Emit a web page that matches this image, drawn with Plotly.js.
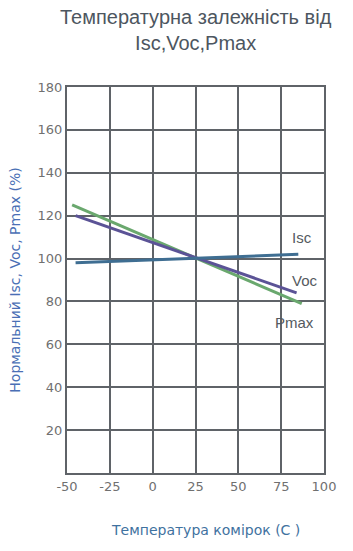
<!DOCTYPE html>
<html>
<head>
<meta charset="utf-8">
<script src="https://cdn.plot.ly/plotly-3.0.1.min.js"></script>
<style>body{margin:0;background:#fff}#chart{width:353px;height:551px}</style>
</head>
<body>
<div id="chart"></div>
<script>
const iscX = [-45, 85];
const iscY = [98, 102];
const vocX = [-45, 84];
const vocY = [120, 84];
const pmaxX = [-47, 87];
const pmaxY = [125, 79];
const xTicks = [-50, -25, 0, 25, 50, 75, 100];
const yTicks = [20, 40, 60, 80, 100, 120, 140, 160, 180];
const seriesNames = ['Isc', 'Voc', 'Pmax'];

const traces = [
  {x: pmaxX, y: pmaxY, mode: 'lines', line: {color: '#6aa86e', width: 3}, name: seriesNames[2]},
  {x: vocX, y: vocY, mode: 'lines', line: {color: '#5b5396', width: 3}, name: seriesNames[1]},
  {x: iscX, y: iscY, mode: 'lines', line: {color: '#3f6e92', width: 3}, name: seriesNames[0]}
];

const axisCommon = {
  showgrid: true, gridcolor: '#5f6368', gridwidth: 2,
  showline: true, linecolor: '#5f6368', linewidth: 2, mirror: true,
  zeroline: false, ticks: '',
  tickfont: {family: 'DejaVu Sans, sans-serif', size: 13, color: '#707070'}
};

const labelFont = {size: 15, color: '#555a60', family: 'Liberation Sans, Arial, sans-serif'};

const layout = {
  width: 353, height: 551,
  margin: {l: 67, r: 29, t: 87, b: 78},
  paper_bgcolor: '#fff', plot_bgcolor: '#fff',
  showlegend: false,
  font: {family: 'DejaVu Sans, sans-serif'},
  xaxis: Object.assign({}, axisCommon, {
    range: [-50, 100], tickvals: xTicks, ticktext: xTicks.map(String)
  }),
  yaxis: Object.assign({}, axisCommon, {
    range: [0, 180], tickvals: yTicks, ticktext: yTicks.map(String),
    title: {text: 'Нормальний Isc, Voc, Pmax (%)', font: {family: 'DejaVu Sans, sans-serif', size: 14, color: '#4a6fb5'}, standoff: 14}
  }),
  annotations: [
    {xref: 'paper', yref: 'paper', x: 0.5, y: 1 + (87 - 30) / 386, xanchor: 'center', yanchor: 'middle',
     text: 'Температурна залежність від<br>Isc,Voc,Pmax', showarrow: false,
     font: {family: 'Liberation Sans, Arial, sans-serif', size: 20, color: '#4d5660'}},
    {xref: 'paper', yref: 'paper', x: (205 - 67) / 257, y: -(530 - 473) / 386, xanchor: 'center', yanchor: 'middle',
     text: 'Температура комірок (C )', showarrow: false,
     font: {family: 'DejaVu Sans, sans-serif', size: 14, color: '#3f72a0'}},
    {x: 87, y: 110, xref: 'x', yref: 'y', text: seriesNames[0], showarrow: false, font: labelFont},
    {x: 89, y: 90, xref: 'x', yref: 'y', text: seriesNames[1], showarrow: false, font: labelFont},
    {x: 83, y: 70, xref: 'x', yref: 'y', text: seriesNames[2], showarrow: false, font: labelFont}
  ]
};

Plotly.newPlot('chart', traces, layout, {displayModeBar: false, staticPlot: true});
</script>
</body>
</html>
